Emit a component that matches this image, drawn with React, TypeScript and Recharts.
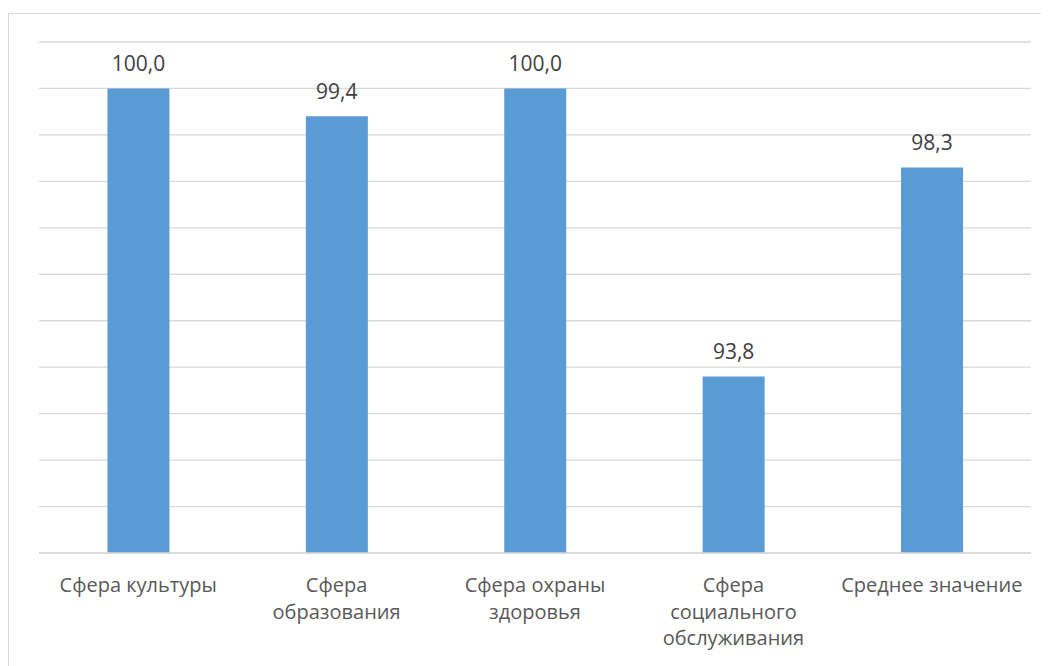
import { BarChart, Bar, XAxis, YAxis, CartesianGrid, LabelList } from "recharts";

const categories = [
  "Сфера культуры",
  "Сфера\nобразования",
  "Сфера охраны\nздоровья",
  "Сфера\nсоциального\nобслуживания",
  "Среднее значение",
];
const values = [100.0, 99.4, 100.0, 93.8, 98.3];
const yTicks = [90, 91, 92, 93, 94, 95, 96, 97, 98, 99, 100, 101];

const data = categories.map((name, i) => ({ name, value: values[i] }));

const FONT = "'Open Sans', sans-serif";

const CategoryTick = (props: any) => {
  const { x, y, payload } = props;
  const lines = String(payload.value).split("\n");
  return (
    <text x={x} y={y + 31} textAnchor="middle" fill="#595959" fontSize={20} fontFamily={FONT}>
      {lines.map((line, i) => (
        <tspan key={i} x={x} dy={i === 0 ? 0 : 26.5}>
          {line}
        </tspan>
      ))}
    </text>
  );
};

export default function App() {
  return (
    <div
      style={{
        marginTop: 5,
        width: 1060,
        height: 670,
        border: "1px solid #d9d9d9",
        boxSizing: "border-box",
      }}
    >
      <BarChart
        width={1040}
        height={650}
        data={data}
        margin={{ top: 28, right: 18, left: 30, bottom: 11 }}
        barCategoryGap="34.5%"
      >
        <CartesianGrid vertical={false} stroke="#d9d9d9" strokeWidth={1.3} />
        <XAxis
          dataKey="name"
          height={100}
          interval={0}
          tickLine={false}
          axisLine={{ stroke: "#d9d9d9", strokeWidth: 1.3 }}
          tick={<CategoryTick />}
        />
        <YAxis hide domain={[90, 101]} ticks={yTicks} interval={0} />
        <Bar dataKey="value" fill="#5b9bd5" isAnimationActive={false}>
          <LabelList
            dataKey="value"
            position="top"
            offset={17}
            fill="#404040"
            fontSize={21}
            fontFamily={FONT}
            formatter={(v: any) => Number(v).toFixed(1).replace(".", ",")}
          />
        </Bar>
      </BarChart>
    </div>
  );
}
